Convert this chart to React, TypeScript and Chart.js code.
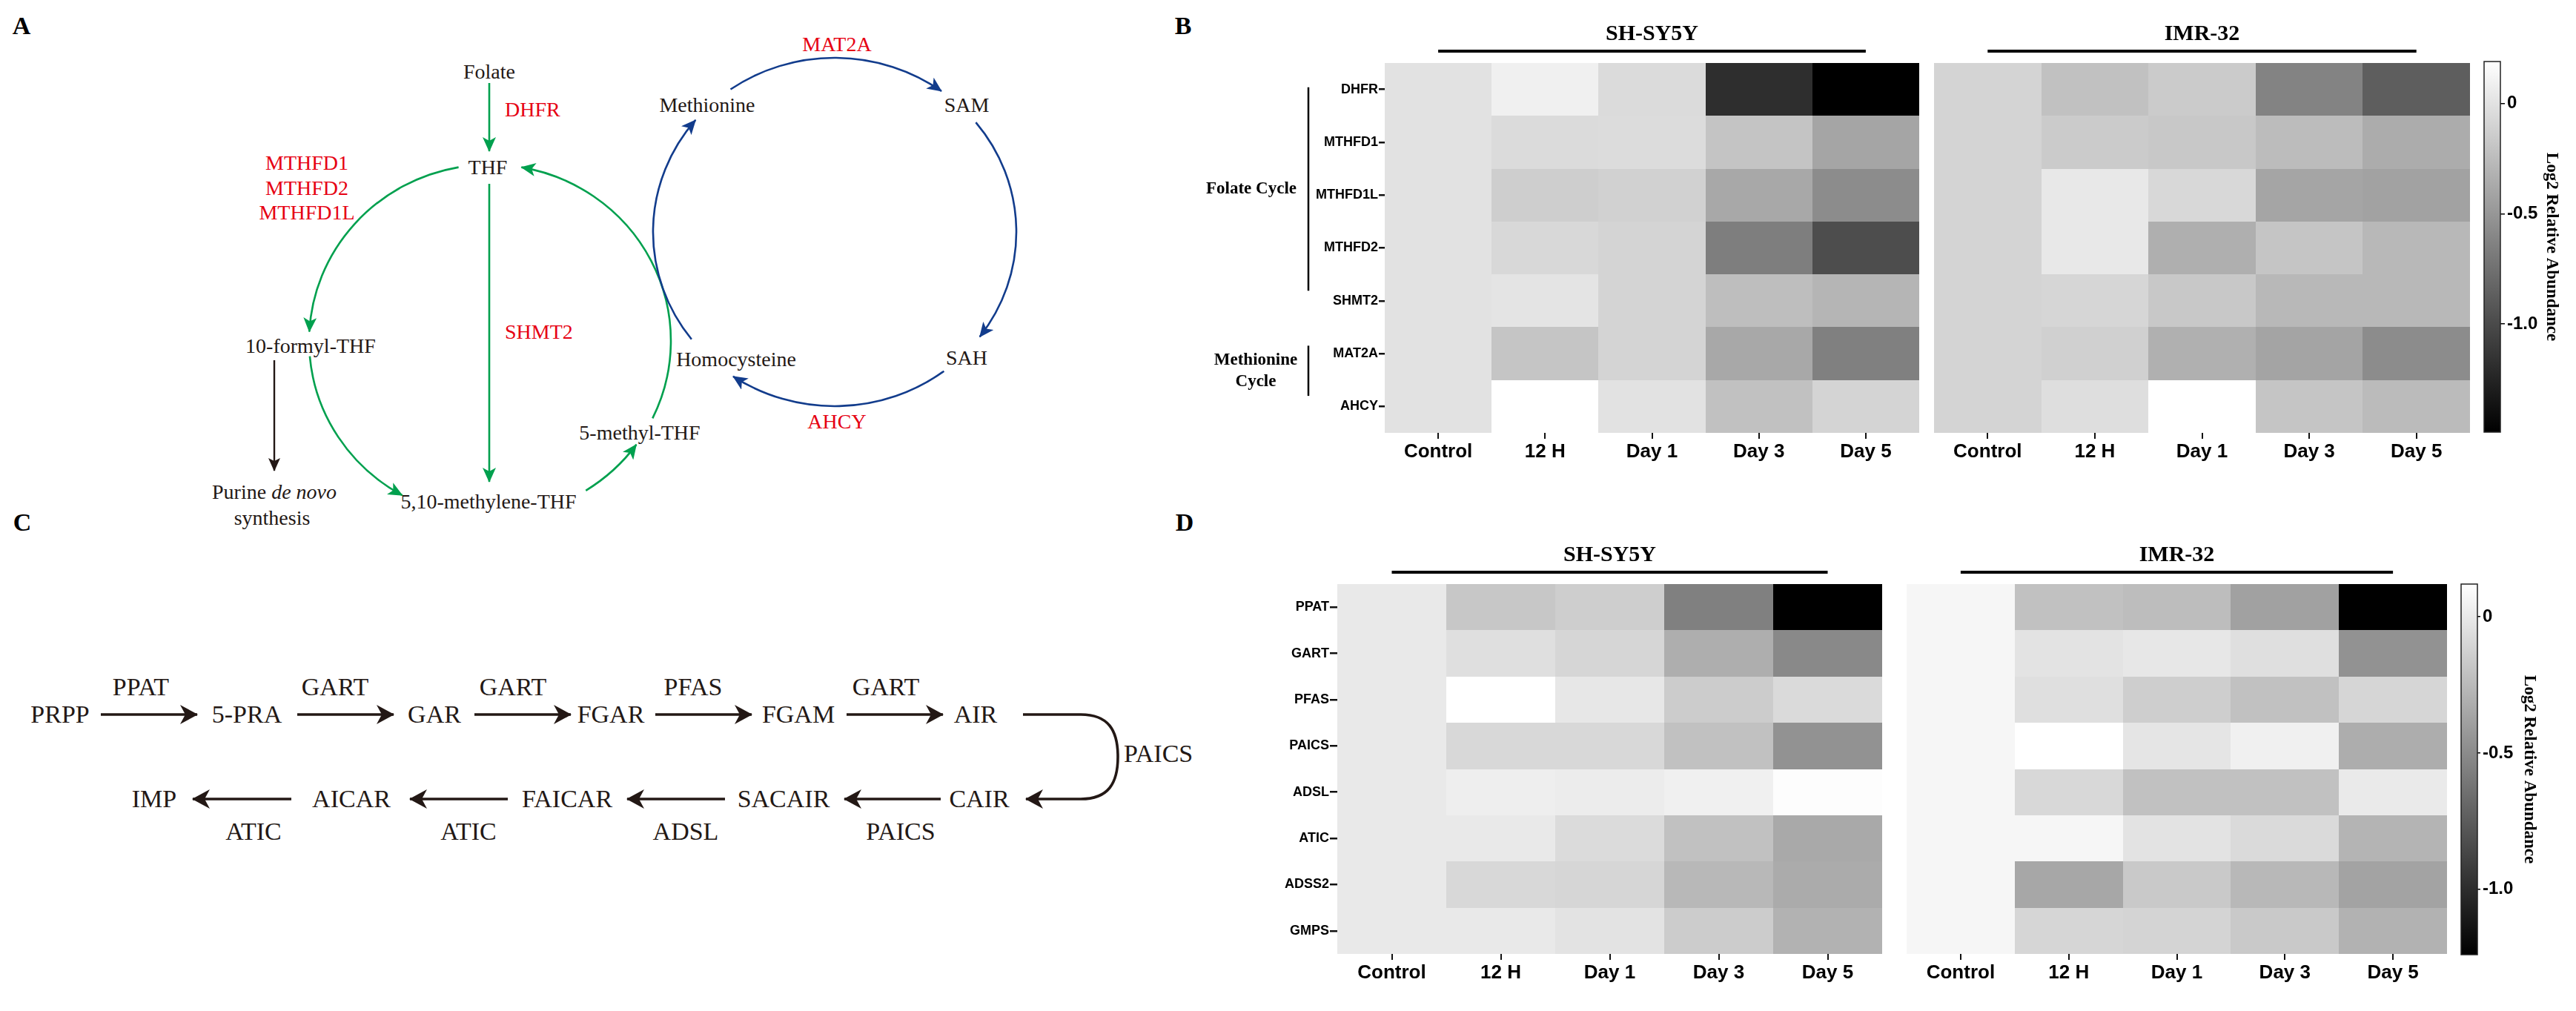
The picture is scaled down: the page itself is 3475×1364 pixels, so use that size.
import React, { useEffect, useRef } from 'react';
import { Chart, registerables } from 'chart.js';

Chart.register(...registerables);

// ---------------- data ----------------
const CONDITIONS = ['Control', '12 H', 'Day 1', 'Day 3', 'Day 5'];
const CELL_LINES = ['SH-SY5Y', 'IMR-32'];
const ONE_CARBON_GENES = ['DHFR', 'MTHFD1', 'MTHFD1L', 'MTHFD2', 'SHMT2', 'MAT2A', 'AHCY'];
const PURINE_GENES = ['PPAT', 'GART', 'PFAS', 'PAICS', 'ADSL', 'ATIC', 'ADSS2', 'GMPS'];
const COLORBAR_TICKS = [0, -0.5, -1.0];

// Log2 relative abundance; rows follow the gene list, columns follow CONDITIONS
const B_SHSY5Y = [
  [0.0, 0.09, -0.05, -1.19, -1.49],
  [0.0, -0.05, -0.04, -0.2, -0.4],
  [0.0, -0.13, -0.11, -0.38, -0.57],
  [0.0, -0.07, -0.09, -0.66, -0.98],
  [0.0, 0.01, -0.09, -0.24, -0.3],
  [0.0, -0.19, -0.09, -0.38, -0.65],
  [0.0, 0.19, 0.0, -0.22, -0.09],
];
const B_IMR32 = [
  [-0.09, -0.22, -0.15, -0.63, -0.87],
  [-0.09, -0.15, -0.17, -0.25, -0.36],
  [-0.09, 0.04, -0.07, -0.4, -0.42],
  [-0.09, 0.04, -0.34, -0.19, -0.28],
  [-0.09, -0.08, -0.17, -0.28, -0.28],
  [-0.09, -0.12, -0.33, -0.41, -0.57],
  [-0.09, -0.03, 0.19, -0.19, -0.26],
];
const D_SHSY5Y = [
  [0.0, -0.18, -0.14, -0.56, -1.24],
  [0.0, -0.05, -0.1, -0.31, -0.51],
  [0.0, 0.12, -0.01, -0.15, -0.08],
  [0.0, -0.09, -0.09, -0.21, -0.46],
  [0.0, 0.03, 0.02, 0.04, 0.11],
  [0.0, 0.0, -0.07, -0.21, -0.34],
  [0.0, -0.09, -0.1, -0.26, -0.33],
  [0.0, 0.0, -0.03, -0.15, -0.29],
];
const D_IMR32 = [
  [0.07, -0.21, -0.23, -0.38, -1.24],
  [0.07, -0.03, -0.01, -0.05, -0.46],
  [0.07, -0.05, -0.14, -0.21, -0.1],
  [0.07, 0.12, -0.02, 0.04, -0.32],
  [0.07, -0.09, -0.21, -0.21, 0.01],
  [0.07, 0.07, -0.03, -0.08, -0.28],
  [0.07, -0.35, -0.17, -0.26, -0.37],
  [0.07, -0.1, -0.11, -0.17, -0.29],
];

const B_MIN = Math.min(...B_SHSY5Y.flat(), ...B_IMR32.flat());
const B_MAX = Math.max(...B_SHSY5Y.flat(), ...B_IMR32.flat());
const D_MIN = Math.min(...D_SHSY5Y.flat(), ...D_IMR32.flat());
const D_MAX = Math.max(...D_SHSY5Y.flat(), ...D_IMR32.flat());

// ---------------- styles ----------------
const SANS = "'Liberation Sans', Arial, Helvetica, sans-serif";
const SERIF = "'Liberation Serif', 'Times New Roman', Times, serif";
const RED = '#E60012';
const GREEN = '#00A04E';
const BLUE = '#123C8C';
const INK = '#231815';

function grayFor(v: number, min: number, max: number) {
  const t = Math.max(0, Math.min(1, (v - min) / (max - min)));
  const g = Math.round(255 * t);
  return `rgb(${g},${g},${g})`;
}

type Group = { lines: string[]; from: string; to: string; topFrac: number; botFrac: number; textDx: number };
type HeatParams = {
  id: string;
  genes: string[];
  values: number[][];
  min: number;
  max: number;
  title: string;
  showY: boolean;
  yWidth: number;
  xHeight: number;
  yTick: number;
  padding: { left: number; top: number; right: number; bottom: number };
  groups?: Group[];
};

function heatPlugin(p: HeatParams) {
  return {
    id: 'heat-' + p.id,
    beforeDatasetsDraw(chart: any) {
      const ctx = chart.ctx;
      const xs = chart.scales.x;
      const ys = chart.scales.y;
      const cw = xs.width / CONDITIONS.length;
      const ch = ys.height / p.genes.length;
      const meta = chart.getDatasetMeta(0);
      const raw = chart.data.datasets[0].data;
      ctx.save();
      meta.data.forEach((el: any, i: number) => {
        const x0 = Math.round(el.x - cw / 2);
        const x1 = Math.round(el.x + cw / 2);
        const y0 = Math.round(el.y - ch / 2);
        const y1 = Math.round(el.y + ch / 2);
        ctx.fillStyle = grayFor(raw[i].v, p.min, p.max);
        ctx.fillRect(x0, y0, x1 - x0, y1 - y0);
      });
      ctx.restore();
    },
    afterDraw(chart: any) {
      const ctx = chart.ctx;
      const a = chart.chartArea;
      const xs = chart.scales.x;
      const ys = chart.scales.y;
      const x0 = xs.getPixelForValue(0);
      const x1 = xs.getPixelForValue(CONDITIONS.length - 1);
      ctx.save();
      ctx.fillStyle = '#000';
      ctx.strokeStyle = '#000';
      ctx.font = `bold 30px ${SERIF}`;
      ctx.textAlign = 'center';
      ctx.textBaseline = 'middle';
      ctx.fillText(p.title, (x0 + x1) / 2, a.top - 39);
      ctx.lineWidth = 4;
      ctx.beginPath();
      ctx.moveTo(x0, a.top - 16);
      ctx.lineTo(x1, a.top - 16);
      ctx.stroke();
      if (p.groups) {
        const band = ys.height / p.genes.length;
        p.groups.forEach((g) => {
          const top = ys.getPixelForValue(p.genes.indexOf(g.from)) + g.topFrac * band;
          const bot = ys.getPixelForValue(p.genes.indexOf(g.to)) + g.botFrac * band;
          const lx = a.left - 103;
          ctx.lineWidth = 2.5;
          ctx.beginPath();
          ctx.moveTo(lx, top);
          ctx.lineTo(lx, bot);
          ctx.stroke();
          ctx.font = `bold 23px ${SERIF}`;
          const mid = (top + bot) / 2;
          const lh = 29;
          g.lines.forEach((t, k) => {
            ctx.fillText(t, a.left + g.textDx, mid + (k - (g.lines.length - 1) / 2) * lh);
          });
        });
      }
      ctx.restore();
    },
  };
}

function heatConfig(p: HeatParams): any {
  const points = p.genes.flatMap((g, r) =>
    CONDITIONS.map((c, ci) => ({ x: c, y: g, v: p.values[r][ci] }))
  );
  return {
    type: 'scatter',
    data: { datasets: [{ data: points, pointRadius: 0, pointHoverRadius: 0, pointHitRadius: 0 }] },
    options: {
      responsive: false,
      animation: false,
      events: [],
      layout: { padding: p.padding },
      plugins: { legend: { display: false }, tooltip: { enabled: false } },
      scales: {
        x: {
          type: 'category',
          labels: CONDITIONS,
          offset: true,
          position: 'bottom',
          grid: { display: true, drawOnChartArea: false, drawTicks: true, tickLength: 8, color: '#111', lineWidth: 2 },
          border: { display: false },
          ticks: { color: '#000', font: { family: SANS, size: 26, weight: 'bold' }, padding: 2, maxRotation: 0, autoSkip: false },
          afterFit: (s: any) => {
            s.height = p.xHeight;
          },
        },
        y: {
          type: 'category',
          labels: p.genes,
          offset: true,
          position: 'left',
          display: p.showY,
          grid: { display: true, drawOnChartArea: false, drawTicks: true, tickLength: p.yTick, color: '#111', lineWidth: 2.5 },
          border: { display: false },
          ticks: { color: '#000', font: { family: SANS, size: 18, weight: 'bold' }, padding: 1, autoSkip: false },
          afterFit: (s: any) => {
            s.width = p.yWidth;
          },
        },
      },
    },
    plugins: [heatPlugin(p)],
  };
}

const colorbarPlugin = {
  id: 'colorbar-gradient',
  beforeDatasetsDraw(chart: any) {
    const ctx = chart.ctx;
    const a = chart.chartArea;
    const ys = chart.scales.y;
    const yTop = ys.getPixelForValue(ys.max);
    const yBot = ys.getPixelForValue(ys.min);
    const grad = ctx.createLinearGradient(0, yTop, 0, yBot);
    grad.addColorStop(0, '#ffffff');
    grad.addColorStop(1, '#000000');
    ctx.save();
    ctx.fillStyle = grad;
    ctx.fillRect(a.left, yTop, a.right - a.left, yBot - yTop);
    ctx.strokeStyle = '#222';
    ctx.lineWidth = 1.5;
    ctx.strokeRect(a.left, yTop, a.right - a.left, yBot - yTop);
    ctx.restore();
  },
};

function colorbarConfig(p: {
  min: number;
  max: number;
  padding: { left: number; top: number; right: number; bottom: number };
  yWidth: number;
  tickLen: number;
  titlePadTop: number;
}): any {
  return {
    type: 'scatter',
    data: { datasets: [] },
    options: {
      responsive: false,
      animation: false,
      events: [],
      layout: { padding: p.padding },
      plugins: { legend: { display: false }, tooltip: { enabled: false } },
      scales: {
        x: { display: false, min: 0, max: 1 },
        y: {
          type: 'linear',
          position: 'right',
          min: p.min,
          max: p.max,
          afterBuildTicks: (s: any) => {
            s.ticks = COLORBAR_TICKS.map((v) => ({ value: v }));
          },
          afterFit: (s: any) => {
            s.width = p.yWidth;
          },
          grid: { drawOnChartArea: false, drawTicks: true, tickLength: p.tickLen, color: '#000', lineWidth: 1.5 },
          border: { display: false },
          ticks: {
            color: '#000',
            padding: 3,
            font: { family: SANS, size: 24, weight: 'bold' },
            callback: (v: any) => (Number(v) === 0 ? '0' : Number(v).toFixed(1)),
          },
          title: {
            display: true,
            text: 'Log2 Relative Abundance',
            color: '#000',
            font: { family: SERIF, size: 23, weight: 'bold' },
            padding: { top: p.titlePadTop, bottom: 0 },
          },
        },
      },
    },
    plugins: [colorbarPlugin],
  };
}

type Spec = { left: number; top: number; w: number; h: number; make: () => any };

const B_GROUPS: Group[] = [
  { lines: ['Folate Cycle'], from: 'DHFR', to: 'MTHFD2', topFrac: -0.04, botFrac: 0.81, textDx: -180 },
  { lines: ['Methionine', 'Cycle'], from: 'MAT2A', to: 'AHCY', topFrac: -0.15, botFrac: -0.2, textDx: -174 },
];

const SPECS: Spec[] = [
  {
    left: 1600, top: 0, w: 1000, h: 660,
    make: () =>
      heatConfig({
        id: 'b-sh', genes: ONE_CARBON_GENES, values: B_SHSY5Y, min: B_MIN, max: B_MAX, title: CELL_LINES[0],
        showY: true, yWidth: 268, xHeight: 50, yTick: 8,
        padding: { left: 0, top: 85, right: 11, bottom: 26 }, groups: B_GROUPS,
      }),
  },
  {
    left: 2600, top: 0, w: 742, h: 660,
    make: () =>
      heatConfig({
        id: 'b-imr', genes: ONE_CARBON_GENES, values: B_IMR32, min: B_MIN, max: B_MAX, title: CELL_LINES[1],
        showY: false, yWidth: 0, xHeight: 50, yTick: 8,
        padding: { left: 9, top: 85, right: 10, bottom: 26 },
      }),
  },
  {
    left: 3340, top: 0, w: 135, h: 660,
    make: () =>
      colorbarConfig({ min: B_MIN, max: B_MAX, padding: { left: 11, top: 83, right: 0, bottom: 77 }, yWidth: 102, tickLen: 6, titlePadTop: 19 }),
  },
  {
    left: 1600, top: 680, w: 950, h: 684,
    make: () =>
      heatConfig({
        id: 'd-sh', genes: PURINE_GENES, values: D_SHSY5Y, min: D_MIN, max: D_MAX, title: CELL_LINES[0],
        showY: true, yWidth: 204, xHeight: 50, yTick: 10,
        padding: { left: 0, top: 108, right: 11, bottom: 27 },
      }),
  },
  {
    left: 2560, top: 680, w: 752, h: 684,
    make: () =>
      heatConfig({
        id: 'd-imr', genes: PURINE_GENES, values: D_IMR32, min: D_MIN, max: D_MAX, title: CELL_LINES[1],
        showY: false, yWidth: 0, xHeight: 50, yTick: 10,
        padding: { left: 12, top: 108, right: 11, bottom: 27 },
      }),
  },
  {
    left: 3310, top: 680, w: 165, h: 684,
    make: () =>
      colorbarConfig({ min: D_MIN, max: D_MAX, padding: { left: 10, top: 108, right: 0, bottom: 76 }, yWidth: 133, tickLen: 4, titlePadTop: 49 }),
  },
];

// ---------------- pathway diagrams (A, C) ----------------
function ellArc(cx: number, cy: number, rx: number, ry: number, a0: number, a1: number) {
  const r = Math.PI / 180;
  const x0 = cx + rx * Math.cos(a0 * r);
  const y0 = cy + ry * Math.sin(a0 * r);
  const x1 = cx + rx * Math.cos(a1 * r);
  const y1 = cy + ry * Math.sin(a1 * r);
  const sweep = a1 > a0 ? 1 : 0;
  const large = Math.abs(a1 - a0) > 180 ? 1 : 0;
  return `M${x0.toFixed(1)},${y0.toFixed(1)} A${rx},${ry} 0 ${large} ${sweep} ${x1.toFixed(1)},${y1.toFixed(1)}`;
}

const BLUE_ARCS: [number, number][] = [[-125, -54], [-39, 37], [53, 124], [142, 220]];
const GREEN_ARCS: [number, number][] = [[-100, -177], [175, 119], [58, 36], [26, -80]];

type Lbl = { t: React.ReactNode; x: number; y: number; c?: string; a?: 'start' | 'middle' | 'end' };

const A_LABELS: Lbl[] = [
  { t: 'Folate', x: 660, y: 96 },
  { t: 'DHFR', x: 681, y: 147, c: RED, a: 'start' },
  { t: 'THF', x: 658, y: 225 },
  { t: 'MTHFD1', x: 414, y: 219, c: RED },
  { t: 'MTHFD2', x: 414, y: 253, c: RED },
  { t: 'MTHFD1L', x: 414, y: 286, c: RED },
  { t: 'SHMT2', x: 681, y: 447, c: RED, a: 'start' },
  { t: '10-formyl-THF', x: 419, y: 466 },
  { t: <>Purine <tspan fontStyle="italic">de novo</tspan></>, x: 370, y: 663 },
  { t: 'synthesis', x: 367, y: 698 },
  { t: '5,10-methylene-THF', x: 659, y: 676 },
  { t: '5-methyl-THF', x: 863, y: 583 },
  { t: 'Homocysteine', x: 993, y: 484 },
  { t: 'Methionine', x: 954, y: 141 },
  { t: 'SAM', x: 1304, y: 141 },
  { t: 'SAH', x: 1304, y: 482 },
  { t: 'MAT2A', x: 1129, y: 59, c: RED },
  { t: 'AHCY', x: 1129, y: 568, c: RED },
];

const C_ROW1 = ['PRPP', '5-PRA', 'GAR', 'FGAR', 'FGAM', 'AIR'];
const C_ROW1_X = [81, 333, 586, 824, 1077, 1316];
const C_ROW1_ENZ = ['PPAT', 'GART', 'GART', 'PFAS', 'GART'];
const C_ROW1_ENZ_X = [190, 452, 692, 935, 1195];
const C_ROW1_ARROWS: [number, number][] = [[136, 266], [401, 531], [640, 770], [884, 1014], [1142, 1272]];
const C_ROW2 = ['IMP', 'AICAR', 'FAICAR', 'SACAIR', 'CAIR'];
const C_ROW2_X = [208, 474, 765, 1057, 1321];
const C_ROW2_ENZ = ['ATIC', 'ATIC', 'ADSL', 'PAICS'];
const C_ROW2_ENZ_X = [342, 632, 925, 1215];
const C_ROW2_ARROWS: [number, number][] = [[393, 260], [685, 553], [978, 846], [1269, 1139]];

function Diagrams() {
  const txt = (l: Lbl, i: number, size: number) => (
    <text
      key={i}
      x={l.x}
      y={l.y}
      fill={l.c || INK}
      fontSize={size}
      textAnchor={l.a || 'middle'}
      dominantBaseline="central"
    >
      {l.t}
    </text>
  );
  const marker = (id: string, color: string, w: number, h: number, notch: number) => (
    <marker
      id={id}
      markerUnits="userSpaceOnUse"
      markerWidth={w}
      markerHeight={h}
      viewBox={`0 0 ${w} ${h}`}
      refX={w - 1}
      refY={h / 2}
      orient="auto"
    >
      <path d={`M0,0 L${w},${h / 2} L0,${h} L${notch},${h / 2} Z`} fill={color} />
    </marker>
  );
  return (
    <svg
      width={3475}
      height={1364}
      style={{ position: 'absolute', left: 0, top: 0 }}
      fontFamily={SERIF}
    >
      <defs>
        {marker('ahG', GREEN, 20, 18, 5)}
        {marker('ahB', BLUE, 20, 18, 5)}
        {marker('ahK', INK, 18, 16, 4)}
        {marker('ahC', INK, 24, 26, 7)}
      </defs>
      {/* panel letters */}
      <g fontWeight="bold" fontSize={34} fill="#000" textAnchor="middle" dominantBaseline="central">
        <text x={29} y={34}>A</text>
        <text x={1596} y={34}>B</text>
        <text x={30} y={704}>C</text>
        <text x={1598} y={704}>D</text>
      </g>
      {/* Panel A: folate cycle */}
      <g fill="none" stroke={GREEN} strokeWidth={2.6}>
        <path d="M660,112 L660,204" markerEnd="url(#ahG)" />
        <path d="M660,248 L660,650" markerEnd="url(#ahG)" />
        {GREEN_ARCS.map(([a0, a1], i) => (
          <path key={i} d={ellArc(661, 460, 244, 238, a0, a1)} markerEnd="url(#ahG)" />
        ))}
      </g>
      <g fill="none" stroke={BLUE} strokeWidth={2.6}>
        {BLUE_ARCS.map(([a0, a1], i) => (
          <path key={i} d={ellArc(1126, 313, 245, 235, a0, a1)} markerEnd="url(#ahB)" />
        ))}
      </g>
      <path d="M370,486 L370,635" stroke={INK} strokeWidth={2.4} fill="none" markerEnd="url(#ahK)" />
      {A_LABELS.map((l, i) => txt(l, i, 28))}
      {/* Panel C: purine de novo synthesis */}
      <g fill="none" stroke={INK} strokeWidth={3.6}>
        {C_ROW1_ARROWS.map(([x0, x1], i) => (
          <path key={'r1' + i} d={`M${x0},964 L${x1},964`} markerEnd="url(#ahC)" />
        ))}
        {C_ROW2_ARROWS.map(([x0, x1], i) => (
          <path key={'r2' + i} d={`M${x0},1078 L${x1},1078`} markerEnd="url(#ahC)" />
        ))}
        <path
          d="M1380,964 L1458,964 C1495,964 1508,985 1508,1021 C1508,1057 1495,1078 1458,1078 L1384,1078"
          markerEnd="url(#ahC)"
        />
      </g>
      {C_ROW1.map((t, i) => txt({ t, x: C_ROW1_X[i], y: 963 }, 100 + i, 34))}
      {C_ROW1_ENZ.map((t, i) => txt({ t, x: C_ROW1_ENZ_X[i], y: 926 }, 200 + i, 34))}
      {C_ROW2.map((t, i) => txt({ t, x: C_ROW2_X[i], y: 1077 }, 300 + i, 34))}
      {C_ROW2_ENZ.map((t, i) => txt({ t, x: C_ROW2_ENZ_X[i], y: 1121 }, 400 + i, 34))}
      {txt({ t: 'PAICS', x: 1516, y: 1016, a: 'start' }, 500, 34)}
    </svg>
  );
}

export default function App() {
  const canvasRefs = useRef<(HTMLCanvasElement | null)[]>([]);
  useEffect(() => {
    const charts = SPECS.map((s, i) => new Chart(canvasRefs.current[i] as HTMLCanvasElement, s.make()));
    return () => {
      charts.forEach((c) => c.destroy());
    };
  }, []);
  return (
    <div
      style={{
        position: 'absolute',
        left: 0,
        top: 0,
        width: 3475,
        height: 1364,
        background: '#ffffff',
        overflow: 'hidden',
      }}
    >
      <Diagrams />
      {SPECS.map((s, i) => (
        <canvas
          key={i}
          ref={(el) => {
            canvasRefs.current[i] = el;
          }}
          width={s.w}
          height={s.h}
          style={{ position: 'absolute', left: s.left, top: s.top, width: s.w, height: s.h }}
        />
      ))}
    </div>
  );
}
